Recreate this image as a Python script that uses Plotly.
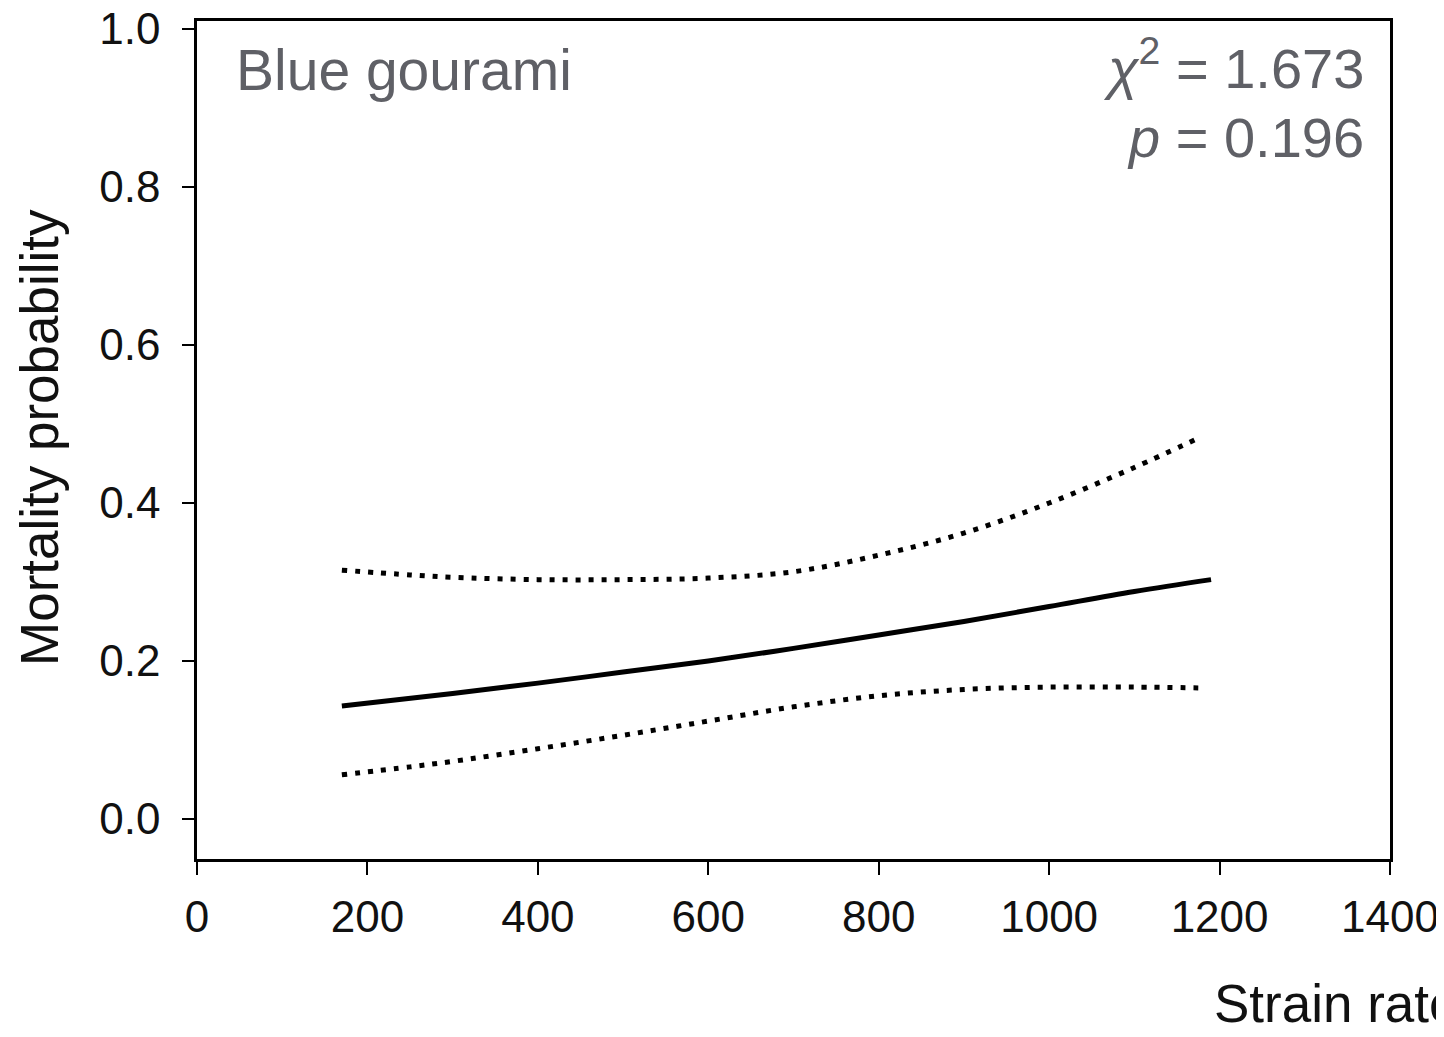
import plotly.graph_objects as go

# Strain rate values (x) and mortality probability curves
strain_fit = [170, 300, 400, 500, 600, 700, 800, 900, 1000, 1100, 1190]
prob_fit = [0.143, 0.159, 0.172, 0.186, 0.200, 0.216, 0.233, 0.250, 0.269, 0.288, 0.303]

strain_ci = [170, 250, 300, 400, 500, 600, 700, 800, 900, 1000, 1100, 1175]
prob_upper = [0.315, 0.309, 0.306, 0.303, 0.303, 0.305, 0.313, 0.334, 0.362, 0.400, 0.445, 0.482]
prob_lower = [0.056, 0.066, 0.073, 0.089, 0.106, 0.124, 0.142, 0.156, 0.164, 0.167, 0.167, 0.166]

x_ticks = [0, 200, 400, 600, 800, 1000, 1200, 1400]
y_ticks = [0.0, 0.2, 0.4, 0.6, 0.8, 1.0]
y_tick_labels = ["0.0", "0.2", "0.4", "0.6", "0.8", "1.0"]

species = "Blue gourami"
chi_text = "<i>χ</i><sup>2</sup> = 1.673"
p_text = "<i>p</i> = 0.196"

FONT = "Liberation Sans, Arial, sans-serif"
GRAY = "#5f6066"

# page body has an 8px margin; figure is sized so it ends at the window edge
W, H = 1436, 1029
L, T = 189, 13
PW, PH = 1193, 838


def px(xp):
    return (xp - 8 - L) / PW


def py(yp):
    return (T + PH - (yp - 8)) / PH


fig = go.Figure()
fig.add_trace(go.Scatter(x=strain_ci, y=prob_upper, mode="lines",
                         line=dict(color="black", width=5, dash="5px,8px", shape="spline"),
                         showlegend=False, hoverinfo="skip"))
fig.add_trace(go.Scatter(x=strain_ci, y=prob_lower, mode="lines",
                         line=dict(color="black", width=5, dash="5px,8px", shape="spline"),
                         showlegend=False, hoverinfo="skip"))
fig.add_trace(go.Scatter(x=strain_fit, y=prob_fit, mode="lines",
                         line=dict(color="black", width=5, shape="spline"),
                         showlegend=False, hoverinfo="skip"))

fig.update_layout(
    width=W, height=H,
    margin=dict(l=L, r=W - L - PW, t=T, b=H - T - PH, pad=0, autoexpand=False),
    paper_bgcolor="white", plot_bgcolor="white",
    font=dict(family=FONT, color="#111111"),
    xaxis=dict(range=[0, 1400], tickvals=x_ticks, ticks="outside", ticklen=13,
               tickwidth=2, tickcolor="black", showline=True, linecolor="black",
               linewidth=2.5, mirror=True, showgrid=False, zeroline=False,
               automargin=False, ticklabeloverflow="allow",
               tickfont=dict(size=44, family=FONT, color="#111111"),
               ticklabelstandoff=4),
    yaxis=dict(range=[-0.0506, 1.0101], tickvals=y_ticks, ticktext=y_tick_labels,
               ticks="outside", ticklen=12, tickwidth=2, tickcolor="black",
               showline=True, linecolor="black", linewidth=2.5, mirror=True,
               showgrid=False, zeroline=False, automargin=False,
               ticklabeloverflow="allow",
               tickfont=dict(size=44, family=FONT, color="#111111"),
               ticklabelstandoff=13),
    annotations=[
        dict(text="Mortality probability", textangle=-90, xref="paper", yref="paper",
             x=px(40), y=py(438), xanchor="center", yanchor="middle",
             showarrow=False, font=dict(size=53, family=FONT, color="#111111")),
        dict(text="Strain rate", xref="paper", yref="paper",
             x=px(1212), y=py(1003), xanchor="left", yanchor="middle",
             showarrow=False, font=dict(size=53, family=FONT, color="#111111")),
        dict(text=species, xref="paper", yref="paper",
             x=px(234), y=py(70), xanchor="left", yanchor="middle",
             showarrow=False, font=dict(size=57, family=FONT, color=GRAY)),
        dict(text=chi_text, xref="paper", yref="paper",
             x=px(1366), y=py(64), xanchor="right", yanchor="middle",
             showarrow=False, font=dict(size=56, family=FONT, color=GRAY)),
        dict(text=p_text, xref="paper", yref="paper",
             x=px(1366), y=py(137), xanchor="right", yanchor="middle",
             showarrow=False, font=dict(size=56, family=FONT, color=GRAY)),
    ],
)

fig.write_html("out.html")
